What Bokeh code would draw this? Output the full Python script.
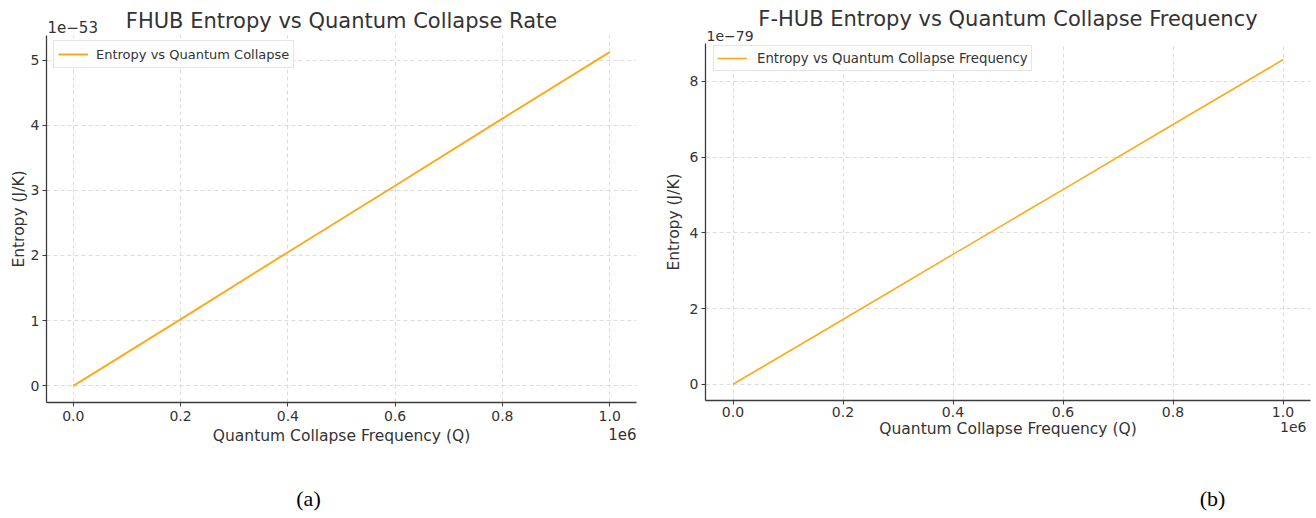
from bokeh.plotting import figure
from bokeh.layouts import row
from bokeh.models import Range1d, FixedTicker, PrintfTickFormatter, Label, Grid
from bokeh.embed import file_html
from bokeh.resources import INLINE

# ---- data ----
# Quantum collapse frequency, in units of 1e6
q_values = [0.0, 0.2, 0.4, 0.6, 0.8, 1.0]
# Panel (a) entropy, in units of 1e-53 J/K
entropy_a = [0.0, 1.02, 2.05, 3.07, 4.10, 5.12]
# Panel (b) entropy, in units of 1e-79 J/K
entropy_b = [0.0, 1.71, 3.43, 5.14, 6.86, 8.57]

x_ticks = [0.0, 0.2, 0.4, 0.6, 0.8, 1.0]
y_ticks_a = [0, 1, 2, 3, 4, 5]
y_ticks_b = [0, 2, 4, 6, 8]

titles = ["FHUB Entropy vs Quantum Collapse Rate",
          "F-HUB Entropy vs Quantum Collapse Frequency"]
legend_labels = ["Entropy vs Quantum Collapse",
                 "Entropy vs Quantum Collapse Frequency"]
y_offsets = ["1e\u221253", "1e\u221279"]
x_offset = "1e6"
captions = ["(a)", "(b)"]
x_label = "Quantum Collapse Frequency (Q)"
y_label = "Entropy (J/K)"

FONT = "DejaVu Sans"
TXT = "#333333"
LINE = "#FDAA1A"
H = 518


def margins(vals, frac=0.05):
    lo, hi = min(vals), max(vals)
    span = hi - lo
    return lo - frac * span, hi + frac * span


def make_panel(ys, yticks, title, leg, yoff, caption, W, box, st):
    L, R, T, B = box  # pixel box of the axes area inside this figure
    x_lo, x_hi = margins(q_values)
    y_lo, y_hi = margins(ys)
    kx = (R - L) / (x_hi - x_lo)
    ky = (B - T) / (y_hi - y_lo)
    xr = Range1d(x_lo - L / kx, x_hi + (W - R) / kx)
    yr = Range1d(y_lo - (H - B) / ky, y_hi + T / ky)

    p = figure(width=W, height=H, output_backend="svg", toolbar_location=None,
               x_range=xr, y_range=yr,
               min_border_left=0, min_border_right=0, min_border_top=0, min_border_bottom=0)
    p.outline_line_color = None
    p.background_fill_color = "white"
    p.border_fill_color = "white"

    # grid, limited to the axes box
    has_cross = "cross_bounds" in Grid.properties()
    for g, ticks, b, cb in ((p.xgrid[0], x_ticks, (x_lo, x_hi), (y_lo, y_hi)),
                            (p.ygrid[0], yticks, (y_lo, y_hi), (x_lo, x_hi))):
        g.ticker = FixedTicker(ticks=ticks)
        g.grid_line_color = "#d4d4d4"
        g.grid_line_dash = "4 3"
        g.grid_line_width = 0.8
        if has_cross:
            g.bounds = b
            g.cross_bounds = cb
        else:
            g.visible = False
    if not has_cross:
        p.segment(x0=x_ticks, y0=[y_lo] * len(x_ticks), x1=x_ticks, y1=[y_hi] * len(x_ticks),
                  line_color="#d4d4d4", line_dash="4 3", line_width=0.8)
        p.segment(x0=[x_lo] * len(yticks), y0=yticks, x1=[x_hi] * len(yticks), y1=yticks,
                  line_color="#d4d4d4", line_dash="4 3", line_width=0.8)

    p.line(q_values, ys, line_color=LINE, line_width=st["lw"], legend_label=leg)

    xa, ya = p.xaxis[0], p.yaxis[0]
    xa.fixed_location = y_lo
    xa.bounds = (x_lo, x_hi)
    ya.fixed_location = x_lo
    ya.bounds = (y_lo, y_hi)
    for ax in (xa, ya):
        ax.axis_line_color = "#3c3c3c"
        ax.axis_line_width = 1.3
        ax.major_tick_line_color = "#3c3c3c"
        ax.major_tick_out = 4
        ax.major_tick_in = 0
        ax.minor_tick_line_color = None
        ax.major_label_text_font = FONT
        ax.major_label_text_color = TXT
        ax.major_label_text_font_size = st["tick"]
        ax.axis_label_text_font = FONT
        ax.axis_label_text_font_style = "normal"
        ax.axis_label_text_color = TXT
        ax.axis_label_text_font_size = st["axis"]
    xa.ticker = FixedTicker(ticks=x_ticks)
    ya.ticker = FixedTicker(ticks=yticks)
    xa.formatter = PrintfTickFormatter(format="%.1f")
    ya.formatter = PrintfTickFormatter(format="%d")
    xa.major_label_standoff = st["xls"]
    ya.major_label_standoff = 3
    xa.axis_label_standoff = st["xas"]
    ya.axis_label_standoff = st["yas"]
    xa.axis_label = x_label
    ya.axis_label = y_label

    lg = p.legend[0]
    lg.location = (st["leg_x"], H - st["leg_bottom"])
    lg.margin = 0
    lg.padding = st["leg_pad"]
    lg.spacing = 0
    lg.glyph_width = 30
    lg.glyph_height = 18
    lg.label_height = 18
    lg.label_standoff = st["leg_so"]
    lg.label_text_font = FONT
    lg.label_text_font_size = st["legend"]
    lg.label_text_color = TXT
    lg.border_line_color = "#cccccc"
    lg.border_line_width = 1
    lg.background_fill_alpha = 0.85

    common = dict(x_units="screen", y_units="screen", text_font=FONT, text_color=TXT,
                  text_baseline="middle")
    p.add_layout(Label(x=(L + R) / 2, y=H - st["title_mid"], text=title,
                       text_align="center", text_font_size=st["title"], **common))
    p.add_layout(Label(x=L + 1, y=H - st["off_mid"], text=yoff,
                       text_align="left", text_font_size=st["off"], **common))
    p.add_layout(Label(x=R - st["x_off_dx"], y=H - st["x_off_mid"], text=x_offset,
                       text_align="right", text_font_size=st["off"], **common))
    p.add_layout(Label(x=st["cap_x"], y=H - 498, text=caption,
                       text_align="center", text_baseline="middle",
                       text_font_size="22px", x_units="screen", y_units="screen",
                       text_font="Liberation Serif", text_color="black"))
    return p


st_a = dict(lw=2.0, tick="14px", axis="15.5px", legend="13px", title="21px",
            title_mid=20, off="15px", off_mid=26, x_off_mid=433, x_off_dx=0, cap_x=308,
            xls=4, xas=3, yas=0, leg_x=53, leg_bottom=68, leg_pad=4, leg_so=8)
st_b = dict(lw=1.6, tick="14px", axis="15.5px", legend="13.3px", title="21px",
            title_mid=18, off="14px", off_mid=35, x_off_mid=426, x_off_dx=4, cap_x=552,
            xls=2, xas=0, yas=4, leg_x=53, leg_bottom=71, leg_pad=3, leg_so=10)

p1 = make_panel(entropy_a, y_ticks_a, titles[0], legend_labels[0], y_offsets[0],
                captions[0], 660, (46, 636, 35, 402), st_a)
p2 = make_panel(entropy_b, y_ticks_b, titles[1], legend_labels[1], y_offsets[1],
                captions[1], 656, (45, 650, 43, 400), st_b)

p = row(p1, p2)
open("out.html", "w").write(file_html(p, INLINE))
